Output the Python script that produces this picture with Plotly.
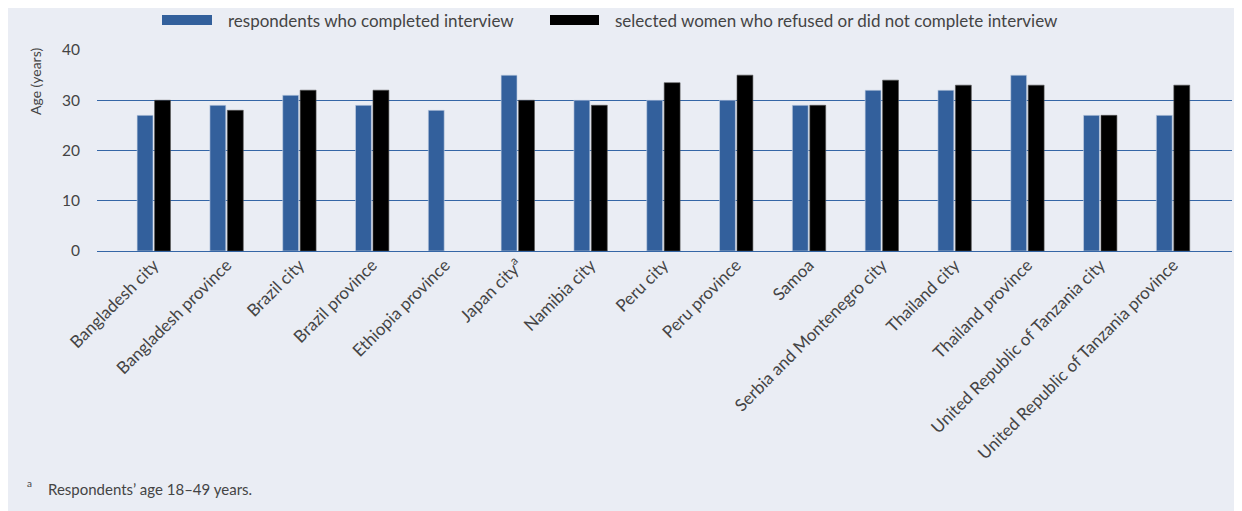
import plotly.graph_objects as go

categories = ["Bangladesh city", "Bangladesh province", "Brazil city", "Brazil province",
              "Ethiopia province", "Japan city<sup>a</sup>", "Namibia city", "Peru city",
              "Peru province", "Samoa", "Serbia and Montenegro city", "Thailand city",
              "Thailand province", "United Republic of Tanzania city",
              "United Republic of Tanzania province"]
completed = [27, 29, 31, 29, 28, 35, 30, 30, 30, 29, 32, 32, 35, 27, 27]
refused = [30, 28, 32, 32, None, 30, 29, 33.5, 35, 29, 34, 33, 33, 27, 33]
series_names = ["respondents who completed interview",
                "selected women who refused or did not complete interview"]
y_ticks = [0, 10, 20, 30, 40]

BLUE = "#33609C"
BG = "#EAEDF4"
GRID = "#3566A6"
TXT = "#444444"
FONT = "Lato, 'Open Sans', sans-serif"

# plot area in screen pixels (page body has an 8px margin)
PL, PR, PT, PB = 97, 1232, 50, 251
PW, PH = PR - PL, PB - PT


def px(x):
    return (x - PL) / PW


def py(y):
    return (PB - y) / PH


fig = go.Figure()
fig.add_trace(go.Bar(x=list(range(len(categories))), y=completed, name=series_names[0],
                     marker=dict(color=BLUE, line=dict(color="#C8D3E6", width=0.6)),
                     showlegend=False))
fig.add_trace(go.Bar(x=list(range(len(categories))), y=refused, name=series_names[1],
                     marker=dict(color="#000000", line=dict(color="#555555", width=0.6)),
                     showlegend=False))

# manual legend
legend_items = [(162, 212, 226, series_names[0], BLUE), (550, 599, 613, series_names[1], "#000000")]
for x0, x1, tx, name, col in legend_items:
    fig.add_shape(type="rect", xref="paper", yref="paper",
                  x0=px(x0), x1=px(x1), y0=py(25), y1=py(15),
                  fillcolor=col, line=dict(width=0))
    fig.add_annotation(xref="paper", yref="paper", x=px(tx), y=py(20),
                       text=name, showarrow=False, xanchor="left", yanchor="middle",
                       font=dict(family=FONT, size=17, color=TXT))

# y-axis title (sits near the top of the axis)
fig.add_annotation(xref="paper", yref="paper", x=px(35), y=py(82),
                   text="Age (years)", showarrow=False, textangle=-90,
                   xanchor="center", yanchor="middle",
                   font=dict(family=FONT, size=14, color=TXT))

fig.add_annotation(xref="paper", yref="paper", x=px(25), y=py(483),
                   text="a", showarrow=False, xanchor="left", yanchor="middle",
                   font=dict(family=FONT, size=10, color=TXT))
fig.add_annotation(xref="paper", yref="paper", x=px(46), y=py(489),
                   text="Respondents’ age 18–49 years.", showarrow=False, xanchor="left",
                   yanchor="middle", font=dict(family=FONT, size=15, color=TXT))

W, H = 1242, 511
OFF = 8
fig.update_layout(
    width=W, height=H,
    margin=dict(l=PL - OFF, r=W - PR + OFF, t=PT - OFF, b=H - PB + OFF),
    paper_bgcolor=BG, plot_bgcolor=BG,
    barmode="group", bargap=0.52, bargroupgap=0.09,
    font=dict(family=FONT, size=15, color=TXT),
    xaxis=dict(tickmode="array", tickvals=list(range(len(categories))), ticktext=categories,
               tickangle=-45, range=[-0.78, 14.81], showgrid=False, zeroline=False,
               showline=False, ticks="", tickfont=dict(size=17, color=TXT)),
    yaxis=dict(range=[0, 40], tickvals=y_ticks, showgrid=True, gridcolor=GRID, gridwidth=1,
               zeroline=True, zerolinecolor=GRID, zerolinewidth=1, ticks="",
               ticklabelstandoff=16, tickfont=dict(size=15.5, color=TXT)),
)

fig.write_html("out.html")
